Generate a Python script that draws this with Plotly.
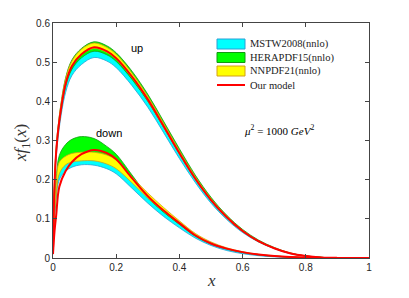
import plotly.graph_objects as go

# ---------------- data ----------------
x_grid = [0, 0.005, 0.01, 0.02, 0.04, 0.06, 0.09, 0.13, 0.17, 0.2, 0.25, 0.3, 0.35,
          0.4, 0.45, 0.5, 0.55, 0.6, 0.65, 0.7, 0.75, 0.8, 0.85, 0.9, 1.0]

# up quark
up_model   = [0.02, 0.19, 0.27, 0.35, 0.445, 0.49, 0.52, 0.538, 0.528, 0.51, 0.463, 0.405, 0.337,
              0.268, 0.203, 0.148, 0.104, 0.069, 0.043, 0.025, 0.012, 0.005, 0.0015, 0.0003, 0]
up_mstw_lo = [0.019, 0.18, 0.255, 0.333, 0.423, 0.466, 0.494, 0.512, 0.503, 0.486, 0.44, 0.385, 0.32,
              0.254, 0.193, 0.14, 0.098, 0.065, 0.041, 0.024, 0.011, 0.0045, 0.0013, 0.0002, 0]
up_mstw_hi = [0.02, 0.19, 0.27, 0.349, 0.443, 0.488, 0.517, 0.535, 0.525, 0.507, 0.46, 0.402, 0.334,
              0.266, 0.201, 0.146, 0.103, 0.068, 0.042, 0.025, 0.012, 0.005, 0.0015, 0.0003, 0]
up_hera_lo = [0.02, 0.188, 0.266, 0.345, 0.438, 0.482, 0.511, 0.528, 0.519, 0.502, 0.456, 0.4, 0.334,
              0.266, 0.202, 0.147, 0.103, 0.068, 0.042, 0.025, 0.012, 0.005, 0.0015, 0.0003, 0]
up_hera_hi = [0.021, 0.198, 0.28, 0.362, 0.46, 0.506, 0.535, 0.552, 0.542, 0.524, 0.477, 0.418, 0.349,
              0.279, 0.212, 0.155, 0.109, 0.073, 0.046, 0.027, 0.013, 0.0055, 0.0017, 0.0003, 0]
up_nn_lo   = [0.02, 0.19, 0.27, 0.35, 0.444, 0.489, 0.519, 0.535, 0.525, 0.507, 0.46, 0.402, 0.334,
              0.266, 0.201, 0.147, 0.103, 0.068, 0.042, 0.025, 0.012, 0.005, 0.0015, 0.0003, 0]
up_nn_hi   = [0.021, 0.2, 0.282, 0.363, 0.458, 0.503, 0.533, 0.549, 0.538, 0.52, 0.472, 0.413, 0.344,
              0.274, 0.208, 0.152, 0.107, 0.071, 0.044, 0.026, 0.0125, 0.0052, 0.0016, 0.0003, 0]

# down quark
dn_model   = [0.01, 0.07, 0.108, 0.182, 0.222, 0.245, 0.265, 0.276, 0.268, 0.252, 0.204, 0.158, 0.121,
              0.089, 0.058, 0.037, 0.024, 0.015, 0.009, 0.005, 0.0025, 0.001, 0.0003, 0.0001, 0]
dn_mstw_lo = [0.015, 0.1, 0.15, 0.2, 0.222, 0.232, 0.238, 0.237, 0.228, 0.215, 0.178, 0.14, 0.106,
              0.077, 0.051, 0.032, 0.019, 0.011, 0.006, 0.003, 0.0014, 0.0005, 0.0001, 0, 0]
dn_mstw_hi = [0.018, 0.12, 0.17, 0.222, 0.245, 0.255, 0.262, 0.262, 0.252, 0.238, 0.196, 0.154, 0.118,
              0.086, 0.056, 0.035, 0.022, 0.013, 0.0075, 0.004, 0.0018, 0.0007, 0.0002, 0, 0]
dn_hera_lo = [0.018, 0.12, 0.17, 0.225, 0.25, 0.258, 0.262, 0.262, 0.255, 0.242, 0.198, 0.153, 0.117,
              0.086, 0.056, 0.036, 0.023, 0.014, 0.008, 0.0045, 0.0021, 0.0008, 0.0002, 0, 0]
dn_hera_hi = [0.022, 0.14, 0.2, 0.262, 0.29, 0.303, 0.31, 0.305, 0.285, 0.265, 0.212, 0.16, 0.123,
              0.09, 0.059, 0.038, 0.024, 0.015, 0.009, 0.005, 0.0025, 0.001, 0.0003, 0.0001, 0]
dn_nn_lo   = [0.016, 0.11, 0.16, 0.215, 0.238, 0.245, 0.248, 0.248, 0.24, 0.228, 0.192, 0.153, 0.119,
              0.088, 0.058, 0.037, 0.024, 0.015, 0.009, 0.005, 0.0024, 0.001, 0.0003, 0.0001, 0]
dn_nn_hi   = [0.02, 0.13, 0.19, 0.245, 0.26, 0.267, 0.27, 0.27, 0.263, 0.25, 0.207, 0.166, 0.129,
              0.095, 0.063, 0.041, 0.026, 0.016, 0.0095, 0.0055, 0.0028, 0.0011, 0.0003, 0.0001, 0]

x_ticks = [0, 0.2, 0.4, 0.6, 0.8, 1]
x_tick_labels = ["0", "0.2", "0.4", "0.6", "0.8", "1"]
y_ticks = [0, 0.1, 0.2, 0.3, 0.4, 0.5, 0.6]
y_tick_labels = ["0", "0.1", "0.2", "0.3", "0.4", "0.5", "0.6"]

legend_names = ["MSTW2008(nnlo)", "HERAPDF15(nnlo)", "NNPDF21(nnlo)", "Our model"]

# ---------------- styles ----------------
FILL = {"mstw": "#00FFFF", "hera": "#00FF00", "nn": "#FFFF00"}
EDGE = {"mstw": "#2a9fd6", "hera": "#119911", "nn": "#d4a017"}
RED = "#FF0000"

# page body adds an 8px margin, so the figure is 16px smaller than the window
OFF = 8
W, H = 409 - 2 * OFF, 298 - 2 * OFF
L, T = 53 - OFF, 23 - OFF
PW, PH = 316, 235
R, B = W - L - PW, H - T - PH

fig = go.Figure()

def band(lo, hi, key):
    fig.add_trace(go.Scatter(
        x=x_grid + x_grid[::-1], y=hi + lo[::-1], mode="lines", fill="toself",
        fillcolor=FILL[key], line=dict(color=EDGE[key], width=0.8, shape="spline", smoothing=1.0),
        showlegend=False, hoverinfo="skip"))

band(up_mstw_lo, up_mstw_hi, "mstw")
band(dn_mstw_lo, dn_mstw_hi, "mstw")
band(up_hera_lo, up_hera_hi, "hera")
band(dn_hera_lo, dn_hera_hi, "hera")
band(up_nn_lo, up_nn_hi, "nn")
band(dn_nn_lo, dn_nn_hi, "nn")

for m in (up_model, dn_model):
    fig.add_trace(go.Scatter(x=x_grid, y=m, mode="lines",
                             line=dict(color=RED, width=2, shape="spline", smoothing=1.0),
                             showlegend=False, hoverinfo="skip"))

# ---------------- manual legend (window pixel layout -> paper coords) ----------------
def px2paper(px, py):
    return (px - OFF - L) / PW, (T + PH - (py - OFF)) / PH

rows_py = [44, 57.5, 71, 85]
for i, name in enumerate(legend_names):
    py = rows_py[i]
    if i < 3:
        key = ["mstw", "hera", "nn"][i]
        x0, y0 = px2paper(217, py + 5)
        x1, y1 = px2paper(245, py - 5)
        fig.add_shape(type="rect", xref="paper", yref="paper", x0=x0, y0=y0, x1=x1, y1=y1,
                      fillcolor=FILL[key], line=dict(color=EDGE[key], width=1))
    else:
        x0, y0 = px2paper(217, py)
        x1, _ = px2paper(245, py)
        fig.add_shape(type="line", xref="paper", yref="paper", x0=x0, y0=y0, x1=x1, y1=y0,
                      line=dict(color=RED, width=2))
    tx, ty = px2paper(248, py)
    fig.add_annotation(xref="paper", yref="paper", x=tx, y=ty, text=name, showarrow=False,
                       xanchor="left", yanchor="middle",
                       font=dict(family="Liberation Serif", size=10.5, color="#222"))

fig.add_annotation(x=0.266, y=0.536, text="up", showarrow=False,
                   font=dict(family="Liberation Sans", size=11, color="#000"))
fig.add_annotation(x=0.176, y=0.319, text="down", showarrow=False,
                   font=dict(family="Liberation Sans", size=11, color="#000"))
fig.add_annotation(x=0.715, y=0.327,
                   text="<i>μ</i><sup>2</sup> = 1000 <i>GeV</i><sup>2</sup>", showarrow=False,
                   font=dict(family="Liberation Serif", size=11, color="#000"))

# axis titles placed as annotations (no automargin)
ax_x, ax_y = px2paper(211, 280)
fig.add_annotation(xref="paper", yref="paper", x=ax_x, y=ax_y, text="<i>x</i>", showarrow=False,
                   xanchor="center", yanchor="middle",
                   font=dict(family="Liberation Serif", size=17, color="#333"))
ay_x, ay_y = px2paper(22, 143)
fig.add_annotation(xref="paper", yref="paper", x=ay_x, y=ay_y,
                   text="<i>xf</i><sub>1</sub>(<i>x</i>)", showarrow=False, textangle=-90,
                   xanchor="center", yanchor="middle",
                   font=dict(family="Liberation Serif", size=17, color="#333"))

axis_common = dict(showline=True, linecolor="#444", linewidth=1, mirror="ticks",
                   ticks="inside", ticklen=4, tickcolor="#444", showgrid=False, zeroline=False,
                   automargin=False,
                   tickfont=dict(family="Liberation Sans", size=10, color="#262626"))

fig.update_layout(
    width=W, height=H, margin=dict(l=L, r=R, t=T, b=B, autoexpand=False),
    paper_bgcolor="white", plot_bgcolor="white",
    xaxis=dict(range=[0, 1], tickvals=x_ticks, ticktext=x_tick_labels, **axis_common),
    yaxis=dict(range=[0, 0.6], tickvals=y_ticks, ticktext=y_tick_labels, **axis_common),
)

fig.write_html("out.html")
